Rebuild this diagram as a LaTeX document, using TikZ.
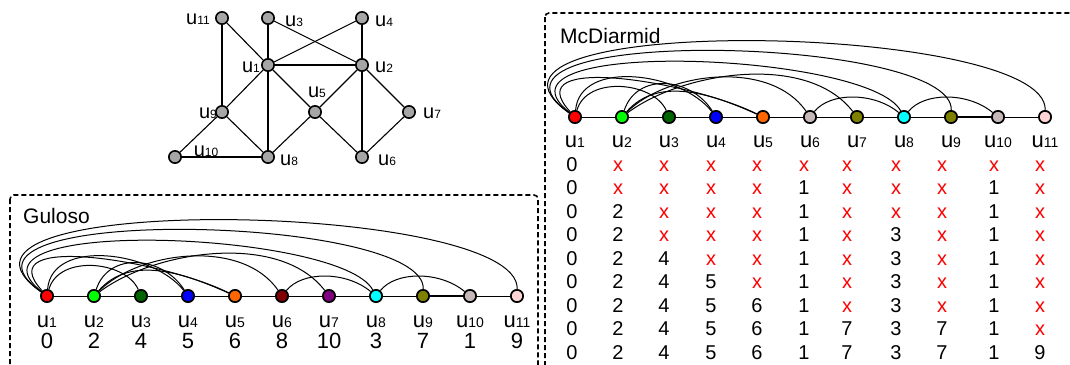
\documentclass[tikz,border=0pt]{standalone}
\usepackage{fontspec}
\setmainfont{Liberation Sans}
\definecolor{cred}{RGB}{255,0,0}
\definecolor{clime}{RGB}{0,255,0}
\definecolor{cdgreen}{RGB}{0,100,0}
\definecolor{cblue}{RGB}{0,0,255}
\definecolor{corange}{RGB}{255,102,0}
\definecolor{cmaroon}{RGB}{128,0,0}
\definecolor{cpurple}{RGB}{128,0,128}
\definecolor{ccyan}{RGB}{0,255,255}
\definecolor{colive}{RGB}{128,128,0}
\definecolor{crgray}{RGB}{198,184,184}
\definecolor{cpink}{RGB}{255,212,212}
\definecolor{cgv}{RGB}{166,166,166}
\definecolor{xred}{RGB}{255,0,0}
\newcommand\tlab[1]{\fontsize{20}{20}\selectfont u{\fontsize{12}{12}\selectfont #1}}
\newcommand\blab[1]{\fontsize{22}{22}\selectfont u{\fontsize{14}{14}\selectfont #1}}
\newcommand\xx{\textcolor{xred}{x}}
\newcommand\drawarcs[1]{%
\draw[arcline] (#11) .. controls +(12,-42) and +(-15,-35) .. (#13);
\draw[arcline] (#11) .. controls +(5,-58) and +(-35,-45) .. (#14);
\draw[arcline] (#11) .. controls +(-60,-65) and +(-70,-35) .. (#15);
\draw[arcline] (#11) .. controls +(-100,-80) and +(-35,-65) .. (#18);
\draw[arcline] (#11) .. controls +(-130,-92) and +(3,-82) .. (#19);
\draw[arcline] (#11) .. controls +(-150,-105) and +(3,-95) .. (#111);
\draw[arcline] (#12) .. controls +(15,-45) and +(-25,-40) .. (#14);
\draw[arcline] (#12) .. controls +(35,-40) and +(-55,-25) .. (#15);
\draw[arcline] (#12) .. controls +(45,-45) and +(-40,-58) .. (#16);
\draw[arcline] (#12) .. controls +(60,-45) and +(-50,-65) .. (#17);
\draw[arcline] (#16) .. controls +(20,-25) and +(-30,-25) .. (#18);
\draw[arcline] (#18) .. controls +(20,-25) and +(-30,-25) .. (#110);
\draw[baseline] (#11) -- (#12) -- (#13) -- (#14) -- (#15) -- (#16) -- (#17) -- (#18) -- (#19);
\draw[baseline, line width=1.6pt] (#19) -- (#110);
\draw[baseline] (#110) -- (#111);
}
\begin{document}
\begin{tikzpicture}[x=1pt,y=-1pt,
  gv/.style={circle, draw=black, fill=cgv, line width=1.6pt, minimum size=12.3pt, inner sep=0pt},
  gedge/.style={line width=1.1pt, black},
  cv/.style={circle, draw=black, line width=1.7pt, minimum size=12.3pt, inner sep=0pt},
  arcline/.style={line width=1pt, black},
  baseline/.style={line width=1pt, black},
  dbox/.style={line width=1.6pt, dash pattern=on 5pt off 3pt, rounded corners=4pt},
  lab/.style={inner sep=0pt, anchor=base},
  num/.style={inner sep=0pt, anchor=base, font=\fontsize{22}{22}\selectfont},
  tnum/.style={inner sep=0pt, anchor=base, font=\fontsize{20}{20}\selectfont},
  title/.style={inner sep=0pt, anchor=base west, font=\fontsize{21}{21}\selectfont}]
\useasboundingbox (0,0) rectangle (1070,364);
% ---------- top graph ----------
\node[gv] (a1) at (268,65) {};
\node[gv] (a2) at (362,65) {};
\node[gv] (a3) at (268,18) {};
\node[gv] (a4) at (362,18) {};
\node[gv] (a5) at (315,112) {};
\node[gv] (a6) at (362,157) {};
\node[gv] (a7) at (409,112) {};
\node[gv] (a8) at (268,157) {};
\node[gv] (a9) at (222,112) {};
\node[gv] (a10) at (175,157) {};
\node[gv] (a11) at (222,18) {};
\draw[gedge] (a11) -- (a9);
\draw[gedge] (a11) -- (a1);
\draw[gedge] (a3) -- (a1);
\draw[gedge] (a3) -- (a2);
\draw[gedge] (a4) -- (a1);
\draw[gedge] (a4) -- (a2);
\draw[gedge] (a1) -- (a2);
\draw[gedge] (a1) -- (a9);
\draw[gedge] (a1) -- (a8);
\draw[gedge] (a1) -- (a5);
\draw[gedge] (a2) -- (a5);
\draw[gedge] (a2) -- (a6);
\draw[gedge] (a2) -- (a7);
\draw[gedge] (a9) -- (a8);
\draw[gedge] (a9) -- (a10);
\draw[gedge] (a10) -- (a8);
\draw[gedge] (a5) -- (a8);
\draw[gedge] (a5) -- (a6);
\draw[gedge] (a7) -- (a6);
\node[inner sep=0pt, anchor=base east] (la11) at (210,24) {\tlab{11}};
\node[inner sep=0pt, anchor=base west] (la3) at (285,26) {\tlab{3}};
\node[inner sep=0pt, anchor=base west] (la4) at (375,26) {\tlab{4}};
\node[inner sep=0pt, anchor=base east] (la1) at (260,72) {\tlab{1}};
\node[inner sep=0pt, anchor=base west] (la2) at (375,72) {\tlab{2}};
\node[inner sep=0pt, anchor=base] (la5) at (317,97) {\tlab{5}};
\node[inner sep=0pt, anchor=base east] (la9) at (217,118) {\tlab{9}};
\node[inner sep=0pt, anchor=base west] (la7) at (423,118) {\tlab{7}};
\node[inner sep=0pt, anchor=base] (la10) at (206,156) {\tlab{10}};
\node[inner sep=0pt, anchor=base west] (la8) at (280,165) {\tlab{8}};
\node[inner sep=0pt, anchor=base west] (la6) at (378,165) {\tlab{6}};
% ---------- Guloso ----------
\draw[dbox] (10,195) rectangle (538,380);
\node[title] (gt) at (23,223) {Guloso};
\foreach \i/\c/\n in {1/cred/0,2/clime/2,3/cdgreen/4,4/cblue/5,5/corange/6,6/cmaroon/8,7/cpurple/10,8/ccyan/3,9/colive/7,10/crgray/1,11/cpink/9}{
  \node[cv, fill=\c] (g\i) at ({47+47*(\i-1)},296) {};
  \node[lab] (gl\i) at ({47+47*(\i-1)},327) {\blab{\i}};
  \node[num] (gn\i) at ({47+47*(\i-1)},348) {\n};
}
\drawarcs{g}
% ---------- McDiarmid ----------
\draw[dbox] (545,13) rectangle (1085,380);
\node[title] (mt) at (560,43) {McDiarmid};
\foreach \i/\c in {1/cred,2/clime,3/cdgreen,4/cblue,5/corange,6/crgray,7/colive,8/ccyan,9/colive,10/crgray,11/cpink}{
  \node[cv, fill=\c] (m\i) at ({575+47*(\i-1)},117) {};
  \node[lab] (ml\i) at ({575+47*(\i-1)},147) {\blab{\i}};
}
\drawarcs{m}
% table
\foreach \r/\row in {0/{0,\xx,\xx,\xx,\xx,\xx,\xx,\xx,\xx,\xx,\xx},
                     1/{0,\xx,\xx,\xx,\xx,1,\xx,\xx,\xx,1,\xx},
                     2/{0,2,\xx,\xx,\xx,1,\xx,\xx,\xx,1,\xx},
                     3/{0,2,\xx,\xx,\xx,1,\xx,3,\xx,1,\xx},
                     4/{0,2,4,\xx,\xx,1,\xx,3,\xx,1,\xx},
                     5/{0,2,4,5,\xx,1,\xx,3,\xx,1,\xx},
                     6/{0,2,4,5,6,1,\xx,3,\xx,1,\xx},
                     7/{0,2,4,5,6,1,7,3,7,1,\xx},
                     8/{0,2,4,5,6,1,7,3,7,1,9}}{
  \foreach \v [count=\k] in \row {
    \pgfmathsetmacro\cx{{572,618,664,711,757,804,847,896,942,994,1040}[\k-1]}
    \node[tnum] (t\r-\k) at (\cx,{171+23.5*\r}) {\v};
  }
}
\end{tikzpicture}
\end{document}
